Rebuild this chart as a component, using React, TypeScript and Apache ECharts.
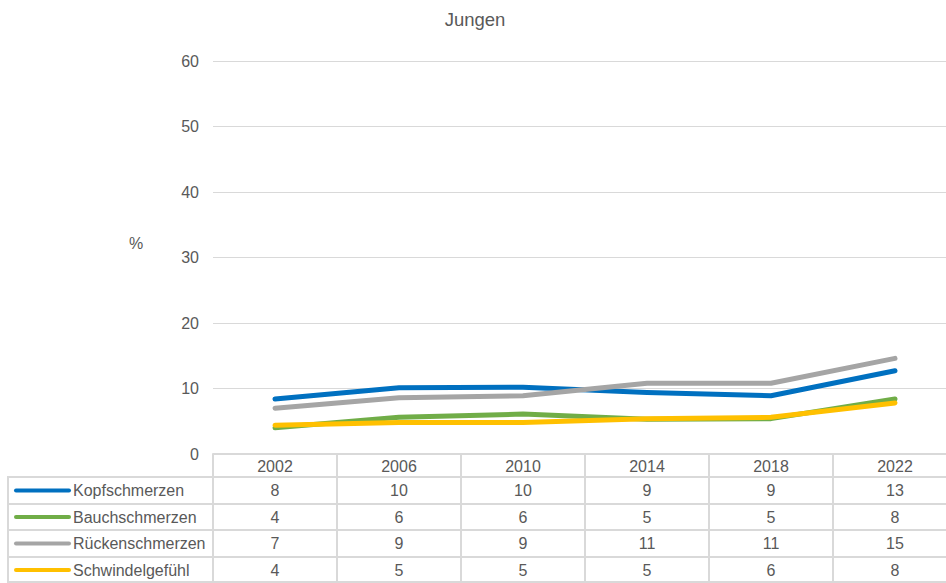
import React, { useEffect, useRef } from "react";
import * as echarts from "echarts";

const years = ["2002", "2006", "2010", "2014", "2018", "2022"];
const seriesNames = ["Kopfschmerzen", "Bauchschmerzen", "Rückenschmerzen", "Schwindelgefühl"];
const seriesColors = ["#0070C0", "#70AD47", "#A5A5A5", "#FFC000"];

const kopf = [8.4, 10.1, 10.2, 9.4, 8.9, 12.7];
const bauch = [4.0, 5.6, 6.1, 5.3, 5.4, 8.4];
const ruecken = [7.0, 8.6, 8.9, 10.8, 10.8, 14.6];
const schwindel = [4.4, 4.8, 4.8, 5.4, 5.6, 7.8];

// values printed in the data table
const kopfTable = [8, 10, 10, 9, 9, 13];
const bauchTable = [4, 6, 6, 5, 5, 8];
const rueckenTable = [7, 9, 9, 11, 11, 15];
const schwindelTable = [4, 5, 5, 5, 6, 8];

const yMin = 0;
const yMax = 60;
const yInterval = 10;

const FONT = "'Liberation Sans', Arial, sans-serif";
const TXT = "#595959";
const GRID = "#D9D9D9";

export default function App() {
  const ref = useRef<HTMLDivElement>(null);

  useEffect(() => {
    if (!ref.current) return;
    const chart = echarts.init(ref.current, undefined, { renderer: "svg" });
    const lineData = [kopf, bauch, ruecken, schwindel];
    const tableData = [kopfTable, bauchTable, rueckenTable, schwindelTable];

    const gridLeft = 213;
    const gridTop = 61;
    const gridBottom = 129;
    const axisY = 583 - gridBottom;
    const rowMargins = [36.5, 63, 89.5, 116];
    const rowLines = [477, 504, 530, 557, 582];

    const graphic: any[] = [];
    rowLines.forEach((y) => {
      graphic.push({
        type: "line",
        shape: { x1: 8, y1: y, x2: 960, y2: y },
        style: { stroke: GRID, lineWidth: 2 },
        silent: true,
      });
    });
    graphic.push({
      type: "line",
      shape: { x1: 8, y1: 476, x2: 8, y2: 583 },
      style: { stroke: GRID, lineWidth: 2 },
      silent: true,
    });
    seriesNames.forEach((name, i) => {
      const cy = axisY + rowMargins[i];
      graphic.push({
        type: "line",
        shape: { x1: 16, y1: cy, x2: 69, y2: cy },
        style: { stroke: seriesColors[i], lineWidth: 4, lineCap: "round" },
        silent: true,
      });
      graphic.push({
        type: "text",
        x: 73,
        y: cy,
        style: {
          text: name,
          fill: TXT,
          font: `16px ${FONT}`,
          textAlign: "left",
          textVerticalAlign: "middle",
        },
        silent: true,
      });
    });
    graphic.push({
      type: "text",
      x: 136,
      y: 243,
      style: {
        text: "%",
        fill: TXT,
        font: `16px ${FONT}`,
        textAlign: "center",
        textVerticalAlign: "middle",
      },
      silent: true,
    });

    const tableAxes = tableData.map((vals, i) => ({
      type: "category",
      data: years,
      position: "bottom",
      gridIndex: 0,
      boundaryGap: true,
      axisLine: { show: false },
      axisTick: { show: false },
      splitLine: { show: false },
      axisLabel: {
        interval: 0,
        margin: rowMargins[i],
        verticalAlign: "middle",
        color: TXT,
        fontSize: 16,
        fontFamily: FONT,
        formatter: (_v: string, idx: number) => String(vals[idx]),
      },
    }));

    chart.setOption({
      animation: false,
      title: {
        text: "Jungen",
        left: 470,
        top: 5,
        textAlign: "center",
        textStyle: { color: TXT, fontSize: 18.5, fontWeight: "normal", fontFamily: FONT },
      },
      grid: { left: gridLeft, right: 0, top: gridTop, bottom: gridBottom, containLabel: false },
      xAxis: [
        {
          type: "category",
          data: years,
          position: "bottom",
          boundaryGap: true,
          axisLine: { show: true, lineStyle: { color: GRID, width: 2 } },
          axisTick: { show: true, interval: 0, length: 128, lineStyle: { color: GRID, width: 2 } },
          splitLine: { show: false },
          axisLabel: {
            interval: 0,
            margin: 12,
            verticalAlign: "middle",
            color: TXT,
            fontSize: 16,
            fontFamily: FONT,
          },
        },
        ...tableAxes,
      ],
      yAxis: {
        type: "value",
        min: yMin,
        max: yMax,
        interval: yInterval,
        axisLine: { show: false },
        axisTick: { show: false },
        splitLine: { show: true, lineStyle: { color: GRID, width: 1 } },
        axisLabel: { color: TXT, fontSize: 16, fontFamily: FONT, margin: 14 },
      },
      series: seriesNames.map((name, i) => ({
        name,
        type: "line",
        data: lineData[i],
        xAxisIndex: 0,
        showSymbol: false,
        symbol: "none",
        lineStyle: { color: seriesColors[i], width: 5, cap: "round", join: "round" },
        itemStyle: { color: seriesColors[i] },
      })),
      graphic,
    });
    return () => chart.dispose();
  }, []);

  return (
    <div
      ref={ref}
      style={{ position: "fixed", left: 0, top: 0, width: 957, height: 583, background: "#fff" }}
    />
  );
}
